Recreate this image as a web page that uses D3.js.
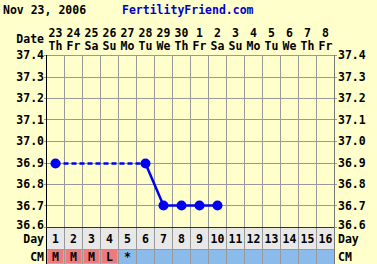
<!DOCTYPE html>
<html>
<head>
<meta charset="UTF-8">
<script src="https://cdnjs.cloudflare.com/ajax/libs/d3/7.8.5/d3.min.js"></script>
<style>
  * { margin: 0; padding: 0; }
  body { background: #ffffcc; }
  svg text { font-family: "DejaVu Sans Mono", monospace; font-weight: bold; font-size: 11.5px; }
</style>
</head>
<body>
<svg id="chart" width="377" height="264"></svg>
<script>
var days = [1, 2, 3, 4, 5, 6, 7, 8, 9, 10, 11, 12, 13, 14, 15, 16];
var dates = ['23', '24', '25', '26', '27', '28', '29', '30', '1', '2', '3', '4', '5', '6', '7', '8'];
var weekdays = ['Th', 'Fr', 'Sa', 'Su', 'Mo', 'Tu', 'We', 'Th', 'Fr', 'Sa', 'Su', 'Mo', 'Tu', 'We', 'Th', 'Fr'];
var temps = [36.9, null, null, null, null, 36.9, 36.7, 36.7, 36.7, 36.7, null, null, null, null, null, null];
var cm = ['M', 'M', 'M', 'L', '*', '', '', '', '', '', '', '', '', '', '', ''];
var yTicks = [36.6, 36.7, 36.8, 36.9, 37.0, 37.1, 37.2, 37.3, 37.4];

var pLeft = 46, pRight = 334, pTop = 55, pBottom = 227;
var dayBottom = 249, cmBottom = 264;

var svg = d3.select('#chart');
svg.append('rect').attr('width', 377).attr('height', 264).attr('fill', '#ffffcc');

var x = d3.scaleBand().domain(days).range([pLeft, pRight]);
var y = d3.scaleLinear().domain([36.6, 37.4]).range([pBottom, pTop]);
var cx = function(d) { return x(d) + x.bandwidth() / 2 + 0.5; };
var labelY = function(d) { return d === 36.6 ? y(d) + 2 : y(d) + 4; };

// title
svg.append('text').attr('x', 3).attr('y', 14).attr('fill', '#000').text('Nov 23, 2006');
svg.append('text').attr('x', 122).attr('y', 14).attr('fill', '#0000cc').text('FertilityFriend.com');

// date header
svg.append('text').attr('x', 44).attr('y', 43).attr('text-anchor', 'end').text('Date');
svg.selectAll('.dt').data(days).enter().append('text')
  .attr('x', cx).attr('y', 37).attr('text-anchor', 'middle')
  .text(function(d, i) { return dates[i]; });
svg.selectAll('.wd').data(days).enter().append('text')
  .attr('x', cx).attr('y', 50).attr('text-anchor', 'middle')
  .text(function(d, i) { return weekdays[i]; });

// day row + cm row backgrounds
svg.append('rect').attr('x', pLeft).attr('y', pBottom).attr('width', pRight - pLeft).attr('height', dayBottom - pBottom).attr('fill', '#e8e8e8');
svg.append('rect').attr('x', pLeft).attr('y', dayBottom).attr('width', pRight - pLeft).attr('height', cmBottom - dayBottom).attr('fill', '#8abbea');
svg.selectAll('.cmcell').data(days.filter(function(d, i) { return cm[i] && cm[i] !== '*'; })).enter().append('rect')
  .attr('x', function(d) { return x(d) + 2; })
  .attr('y', dayBottom + 1)
  .attr('width', x.bandwidth() - 3)
  .attr('height', cmBottom - dayBottom - 2)
  .attr('fill', '#ee7b7b');

// grid
svg.selectAll('.hg').data(yTicks).enter().append('line')
  .attr('x1', pLeft - 2).attr('x2', pRight + 3)
  .attr('y1', function(d) { return Math.round(y(d)) + 0.5; })
  .attr('y2', function(d) { return Math.round(y(d)) + 0.5; })
  .attr('stroke', '#999').attr('stroke-width', 1);
svg.selectAll('.vg').data(days.slice(1)).enter().append('line')
  .attr('x1', function(d) { return x(d) + 0.5; })
  .attr('x2', function(d) { return x(d) + 0.5; })
  .attr('y1', pTop).attr('y2', cmBottom)
  .attr('stroke', '#999');
svg.append('line').attr('x1', pLeft).attr('x2', pRight).attr('y1', dayBottom + 0.5).attr('y2', dayBottom + 0.5).attr('stroke', '#999');
svg.append('line').attr('x1', pRight + 0.5).attr('x2', pRight + 0.5).attr('y1', pTop).attr('y2', cmBottom).attr('stroke', '#777');
svg.append('line').attr('x1', pLeft + 0.5).attr('x2', pLeft + 0.5).attr('y1', pTop).attr('y2', cmBottom).attr('stroke', '#000');
svg.append('line').attr('x1', pLeft).attr('x2', pRight).attr('y1', Math.round(y(36.6)) + 0.5).attr('y2', Math.round(y(36.6)) + 0.5).attr('stroke', '#333');

// y labels
svg.selectAll('.yl').data(yTicks).enter().append('text')
  .attr('x', 44).attr('y', labelY)
  .attr('text-anchor', 'end').text(function(d) { return d.toFixed(1); });
svg.selectAll('.yr').data(yTicks).enter().append('text')
  .attr('x', 338).attr('y', labelY)
  .text(function(d) { return d.toFixed(1); });

// day numbers
svg.append('text').attr('x', 44).attr('y', 243).attr('text-anchor', 'end').text('Day');
svg.append('text').attr('x', 338).attr('y', 243).text('Day');
svg.selectAll('.dn').data(days).enter().append('text')
  .attr('x', cx).attr('y', 243).attr('text-anchor', 'middle').text(function(d) { return d; });

// cm
svg.append('text').attr('x', 44).attr('y', 261).attr('text-anchor', 'end').text('CM');
svg.append('text').attr('x', 338).attr('y', 261).text('CM');
svg.selectAll('.cmt').data(days).enter().append('text')
  .attr('x', cx).attr('y', 261).attr('text-anchor', 'middle').text(function(d, i) { return cm[i]; });

// temperature line
var pts = days.map(function(d, i) { return { day: d, t: temps[i] }; }).filter(function(p) { return p.t !== null; });
var line = d3.line()
  .x(function(p) { return cx(p.day); })
  .y(function(p) { return Math.round(y(p.t)) + 0.5; });
for (var i = 1; i < pts.length; i++) {
  var a = pts[i - 1], b = pts[i];
  svg.append('path').attr('d', line([a, b]))
    .attr('fill', 'none').attr('stroke', '#0000ee').attr('stroke-width', 2.5)
    .attr('stroke-dasharray', b.day - a.day > 1 ? '5,3' : null);
}
svg.selectAll('.dot').data(pts).enter().append('circle')
  .attr('cx', function(p) { return cx(p.day); })
  .attr('cy', function(p) { return Math.round(y(p.t)) + 0.5; })
  .attr('r', 5).attr('fill', '#0000ee');
</script>
</body>
</html>
